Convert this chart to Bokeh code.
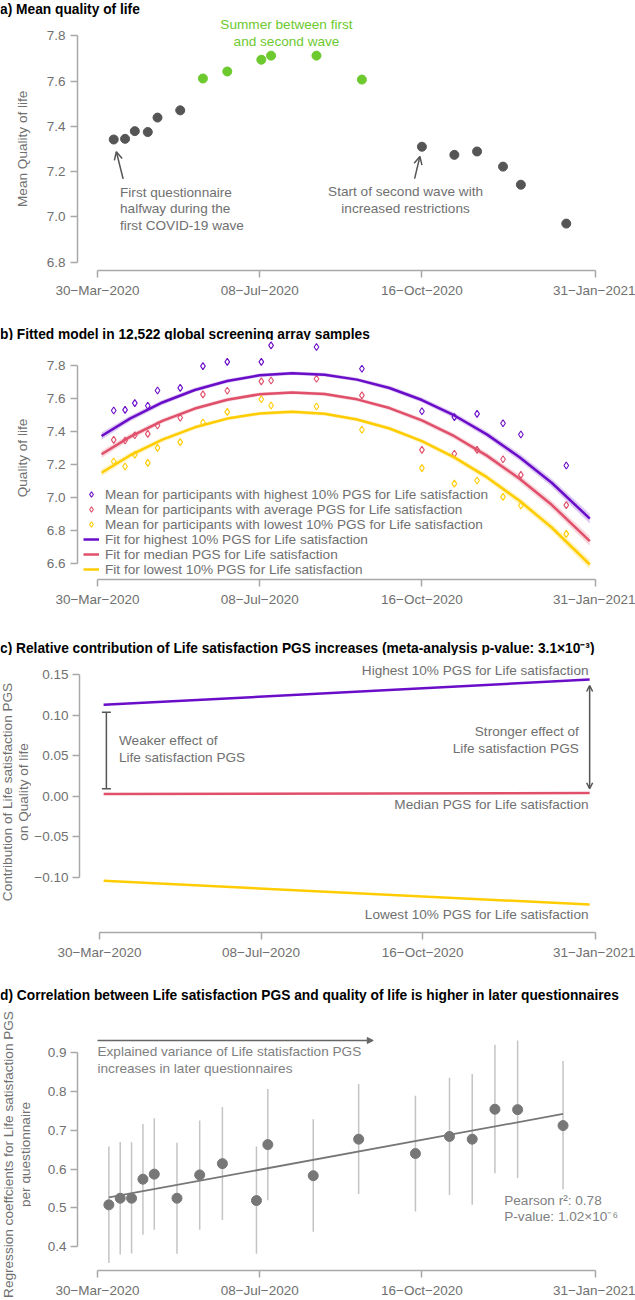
import math
from bokeh.plotting import figure
from bokeh.layouts import column, row
from bokeh.models import (FixedTicker, Arrow, OpenHead, NormalHead, TeeHead, Plot,
                          Whisker, ColumnDataSource, Legend, LegendItem, Range1d)
from bokeh.core.properties import value
from bokeh.embed import file_html
from bokeh.resources import INLINE

# ------------------------------------------------------------------ data
# x axis: days since 30-Mar-2020
x_tick_days = [0, 100, 200, 307]
x_tick_labels = ["30\u2212Mar\u22122020", "08\u2212Jul\u22122020", "16\u2212Oct\u22122020", "31\u2212Jan\u22122021"]

# a) mean quality of life per questionnaire
qol_days = [10, 17, 23, 31, 37, 51, 65, 80, 101, 107, 135, 163, 200, 220, 234, 250, 261, 289]
qol_mean = [7.342, 7.345, 7.379, 7.375, 7.439, 7.471, 7.612, 7.643, 7.695, 7.713, 7.713, 7.607,
            7.310, 7.274, 7.289, 7.222, 7.142, 6.970]
qol_period = ["wave", "wave", "wave", "wave", "wave", "wave",
              "summer", "summer", "summer", "summer", "summer", "summer",
              "wave", "wave", "wave", "wave", "wave", "wave"]
a_y_ticks = [6.8, 7.0, 7.2, 7.4, 7.6, 7.8]
a_y_labels = ["6.8", "7.0", "7.2", "7.4", "7.6", "7.8"]

# b) means per PGS group and fitted model
mean_high = [7.528, 7.532, 7.573, 7.557, 7.650, 7.666, 7.798, 7.824, 7.824, 7.924, 7.914, 7.782,
             7.524, 7.488, 7.508, 7.451, 7.382, 7.194]
mean_avg = [7.350, 7.346, 7.378, 7.386, 7.437, 7.484, 7.626, 7.648, 7.705, 7.711, 7.721, 7.620,
            7.289, 7.265, 7.289, 7.232, 7.137, 6.953]
mean_low = [7.218, 7.188, 7.259, 7.210, 7.301, 7.336, 7.455, 7.520, 7.597, 7.559, 7.553, 7.411,
            7.178, 7.084, 7.103, 7.003, 6.951, 6.778]
fit_days = [2.5, 20, 40, 60, 80, 100, 120, 140, 160, 180, 200, 220, 240, 260, 280, 303.5]
fit_high = [7.373, 7.479, 7.577, 7.653, 7.708, 7.742, 7.755, 7.746, 7.716, 7.665, 7.592, 7.498,
            7.383, 7.246, 7.089, 6.871]
fit_median = [7.262, 7.368, 7.465, 7.540, 7.594, 7.627, 7.638, 7.628, 7.596, 7.543, 7.468, 7.372,
              7.254, 7.115, 6.955, 6.734]
fit_low = [7.150, 7.255, 7.351, 7.426, 7.479, 7.510, 7.520, 7.508, 7.474, 7.419, 7.342, 7.243,
           7.123, 6.981, 6.817, 6.592]
fit_ci_half = [0.022, 0.018, 0.015, 0.013, 0.012, 0.011, 0.011, 0.011, 0.012, 0.013, 0.015, 0.017,
               0.019, 0.022, 0.025, 0.030]
b_y_ticks = [6.6, 6.8, 7.0, 7.2, 7.4, 7.6, 7.8]
b_y_labels = ["6.6", "6.8", "7.0", "7.2", "7.4", "7.6", "7.8"]

# c) contribution of the PGS (start / end of the period)
contrib_days = [2.6, 303.3]
contrib_high = [0.1126, 0.1438]
contrib_median = [0.0026, 0.0039]
contrib_low = [-0.1044, -0.1336]
c_y_ticks = [-0.10, -0.05, 0.0, 0.05, 0.10, 0.15]
c_y_labels = ["\u22120.10", "\u22120.05", "0.00", "0.05", "0.10", "0.15"]

# d) regression coefficients per questionnaire
coef_days = [7, 14, 21, 28, 35, 49, 63, 77, 98, 105, 133, 161, 196, 217, 231, 245, 259, 287]
coef = [0.508, 0.525, 0.525, 0.574, 0.587, 0.525, 0.585, 0.614, 0.519, 0.663, 0.583, 0.677,
        0.640, 0.684, 0.677, 0.754, 0.753, 0.712]
coef_lower = [0.358, 0.380, 0.383, 0.431, 0.444, 0.382, 0.444, 0.469, 0.382, 0.520, 0.439, 0.536,
              0.491, 0.533, 0.508, 0.589, 0.577, 0.548]
coef_upper = [0.658, 0.670, 0.669, 0.716, 0.731, 0.668, 0.725, 0.760, 0.658, 0.806, 0.728, 0.819,
              0.789, 0.835, 0.845, 0.920, 0.931, 0.878]
trend_days = [7, 287]
trend_coef = [0.527, 0.742]
d_y_ticks = [0.4, 0.5, 0.6, 0.7, 0.8, 0.9]
d_y_labels = ["0.4", "0.5", "0.6", "0.7", "0.8", "0.9"]

# ------------------------------------------------------------------ style
FONT = "Liberation Sans"
TXT = "#707070"
AXIS = "#a8a8a8"
DARK = "#555555"
GREEN = "#6cc92e"
PURPLE = "#6a0dc8"
RED = "#e0506a"
YELLOW = "#ffcc00"
FS = "13.6px"

X0, X1 = -12.33, 331.67
HAS_FRAME_ALIGN = "frame_align" in Plot.properties()


def base_fig(**kw):
    p = figure(output_backend="svg", toolbar_location=None, title=None, **kw)
    if HAS_FRAME_ALIGN:
        p.frame_align = False
    p.outline_line_color = None
    return p


def panel(height, top, bottom, y0, y1, yticks, ylabels, ybounds, tick_standoff=4):
    p = base_fig(width=604, height=height, x_range=Range1d(X0, X1), y_range=Range1d(y0, y1),
                 min_border_left=46, min_border_right=0, min_border_top=top, min_border_bottom=bottom)
    p.xgrid.visible = False
    p.ygrid.visible = False
    for ax, ticks, labels, bounds in ((p.xaxis[0], x_tick_days, x_tick_labels, (0, 307)),
                                      (p.yaxis[0], yticks, ylabels, ybounds)):
        ax.ticker = FixedTicker(ticks=ticks, minor_ticks=[])
        ax.major_label_overrides = dict(zip(ticks, labels))
        ax.bounds = bounds
        ax.axis_line_color = AXIS
        ax.axis_line_width = 1.5
        ax.major_tick_line_color = AXIS
        ax.major_tick_line_width = 1.5
        ax.major_tick_out = 7
        ax.major_tick_in = 0
        ax.minor_tick_line_color = None
        ax.major_label_text_font = FONT
        ax.major_label_text_font_size = "13.5px"
        ax.major_label_text_color = TXT
    p.xaxis.major_label_standoff = 5
    p.yaxis.major_label_standoff = tick_standoff
    return p


def title_fig(text, height, baseline):
    t = base_fig(width=635, height=height, x_range=Range1d(0, 635), y_range=Range1d(0, height),
                 x_axis_type=None, y_axis_type=None, min_border=0)
    t.text(x=[-0.5], y=[height - baseline], text=[text], text_font=value(FONT), text_font_style="bold",
           text_font_size="13.75px", text_color="black", text_align="left", text_baseline="alphabetic")
    return t


def ytitle_fig(lines, xs, yc, height, width=31):
    t = base_fig(width=width, height=height, x_range=Range1d(0, width), y_range=Range1d(0, height),
                 x_axis_type=None, y_axis_type=None, min_border=0)
    t.text(x=xs, y=[height - yc] * len(xs), text=lines, angle=math.pi / 2,
           text_font=value(FONT), text_font_size=FS, text_color=TXT,
           text_align="center", text_baseline="middle")
    return t


def add_text(p, xs, ys, texts, align="left", color=TXT):
    p.text(x=xs, y=ys, text=texts, text_font=value(FONT), text_font_size=FS, text_color=color,
           text_align=align, text_baseline="middle")


# ------------------------------------------------------------------ a)
ta = title_fig("a) Mean quality of life", 17, 9)
ya = ytitle_fig(["Mean Quality of life"], [22.3], 131.3, 288)
pa = panel(288, 0, 35, 6.7624, 7.8818, a_y_ticks, a_y_labels, (6.8, 7.8), tick_standoff=5)
period_color = {"wave": DARK, "summer": GREEN}
src_a = ColumnDataSource(dict(x=qol_days, y=qol_mean, c=[period_color[k] for k in qol_period]))
pa.scatter("x", "y", source=src_a, size=9, fill_color="c", line_color="c")
add_text(pa, [116.5, 116.5], [7.8496, 7.777], ["Summer between first", "and second wave"],
         align="center", color=GREEN)
add_text(pa, [13.9, 13.9, 13.9], [7.108, 7.035, 6.962],
         ["First questionnaire", "halfway during the", "first COVID-19 wave"])
add_text(pa, [189.9, 189.9], [7.112, 7.037],
         ["Start of second wave with", "increased restrictions"], align="center")
pa.add_layout(Arrow(end=OpenHead(size=8, line_color=DARK, line_width=1.5),
                    x_start=15.8, y_start=7.168, x_end=11.6, y_end=7.288,
                    line_color=DARK, line_width=1.5))
pa.add_layout(Arrow(end=OpenHead(size=8, line_color=DARK, line_width=1.5),
                    x_start=195.5, y_start=7.169, x_end=198.75, y_end=7.267,
                    line_color=DARK, line_width=1.5))

# ------------------------------------------------------------------ b)
tb = title_fig("b) Fitted model in 12,522 global screening array samples", 35, 28.5)
yb = ytitle_fig(["Quality of life"], [22.3], 117.5, 280)
pb = panel(280, 0, 41, 6.5009, 7.9538, b_y_ticks, b_y_labels, (6.6, 7.8), tick_standoff=5)
for fit, col in ((fit_high, PURPLE), (fit_median, RED), (fit_low, YELLOW)):
    lo = [f - h for f, h in zip(fit, fit_ci_half)]
    hi = [f + h for f, h in zip(fit, fit_ci_half)]
    pb.varea(x=fit_days, y1=lo, y2=hi, fill_color=col, fill_alpha=0.22)
items = []
for vals, col, lab in ((mean_high, PURPLE, "Mean for participants with highest 10% PGS for Life satisfaction"),
                       (mean_avg, RED, "Mean for participants with average PGS for Life satisfaction"),
                       (mean_low, YELLOW, "Mean for participants with lowest 10% PGS for Life satisfaction")):
    r = pb.scatter(qol_days, vals, marker="diamond", size=7,
                   fill_color=None, line_color=col, line_width=1.1)
    items.append(LegendItem(label=lab, renderers=[r]))
for fit, col, lab in ((fit_high, PURPLE, "Fit for highest 10% PGS for Life satisfaction"),
                      (fit_median, RED, "Fit for median PGS for Life satisfaction"),
                      (fit_low, YELLOW, "Fit for lowest 10% PGS for Life satisfaction")):
    r = pb.line(fit_days, fit, line_color=col, line_width=2.5)
    items.append(LegendItem(label=lab, renderers=[r]))
leg = Legend(items=items, location=(6, 2.5), orientation="vertical",
             label_text_font=FONT, label_text_font_size=FS, label_text_color=TXT,
             background_fill_alpha=0, border_line_color=None, padding=0, margin=0, spacing=0,
             glyph_width=16, glyph_height=14, label_height=14, label_standoff=6)
pb.add_layout(leg)

# ------------------------------------------------------------------ c)
tc = title_fig("c) Relative contribution of Life satisfaction PGS increases (meta-analysis p-value: 3.1\u00d710\u207b\u00b3)", 35, 27.5)
yc = ytitle_fig(["Contribution of Life satisfaction PGS", "on Quality of life"], [6.5, 22.5], 136.5, 310)
pc = panel(310, 0, 33, -0.1681, 0.1734, c_y_ticks, c_y_labels, (-0.10, 0.15))
pc.line(contrib_days, contrib_high, line_color=PURPLE, line_width=2.5)
pc.line(contrib_days, contrib_median, line_color=RED, line_width=2.5)
pc.line(contrib_days, contrib_low, line_color=YELLOW, line_width=2.5)
add_text(pc, [302.6, 302.6, 302.6], [0.1549, -0.0107, -0.1459],
         ["Highest 10% PGS for Life satisfaction", "Median PGS for Life satisfaction",
          "Lowest 10% PGS for Life satisfaction"], align="right")
add_text(pc, [12.1, 12.1], [0.0686, 0.0480], ["Weaker effect of", "Life satisfaction PGS"])
add_text(pc, [296.6, 296.6], [0.0797, 0.0591], ["Stronger effect of", "Life satisfaction PGS"],
         align="right")
wsrc = ColumnDataSource(dict(base=[4.3], lower=[0.0091], upper=[0.1035]))
pc.add_layout(Whisker(source=wsrc, base="base", lower="lower", upper="upper", dimension="height",
                      line_color=DARK, line_width=1.5,
                      upper_head=TeeHead(size=9, line_color=DARK, line_width=1.5),
                      lower_head=TeeHead(size=9, line_color=DARK, line_width=1.5)))
pc.add_layout(Arrow(start=OpenHead(size=6, line_color=DARK, line_width=1.5),
                    end=OpenHead(size=6, line_color=DARK, line_width=1.5),
                    x_start=303.3, y_start=0.0091, x_end=303.3, y_end=0.1364,
                    line_color=DARK, line_width=1.5))

# ------------------------------------------------------------------ d)
td = title_fig("d) Correlation between Life satisfaction PGS and quality of life is higher in later questionnaires", 38, 30)
yd = ytitle_fig(["Regression coeffcients for Life satisfaction PGS", "per questionnaire"], [7.5, 24.5], 151, 297)
pd_ = panel(297, 27, 27, 0.339, 0.9567, d_y_ticks, d_y_labels, (0.4, 0.9))
pd_.segment(x0=coef_days, y0=coef_lower, x1=coef_days, y1=coef_upper, line_color="#c4c4c4", line_width=1.5)
pd_.line(trend_days, trend_coef, line_color="#777777", line_width=1.8)
pd_.scatter(coef_days, coef, size=10, fill_color="#777777", line_color="#777777")
pd_.add_layout(Arrow(end=NormalHead(size=6, fill_color="#666666", line_color="#666666"),
                     x_start=0, y_start=0.931, x_end=170, y_end=0.931,
                     line_color="#666666", line_width=1.5))
add_text(pd_, [0, 0], [0.902, 0.860], ["Explained variance of Life statisfaction PGS",
                                       "increases in later questionnaires"], color="#808080")
add_text(pd_, [250.75, 250.75], [0.518, 0.477], ["Pearson r\u00b2: 0.78", "P-value: 1.02\u00d710\u207b\u2076"],
         color="#808080")

layout = column(ta, row(ya, pa, spacing=0), tb, row(yb, pb, spacing=0),
                tc, row(yc, pc, spacing=0), td, row(yd, pd_, spacing=0), spacing=0)
html = file_html(layout, INLINE, title="Quality of life and PGS")
html = html.replace("</head>", "<style>html, body {margin:0; padding:0;}</style></head>", 1)
open("out.html", "w").write(html)
